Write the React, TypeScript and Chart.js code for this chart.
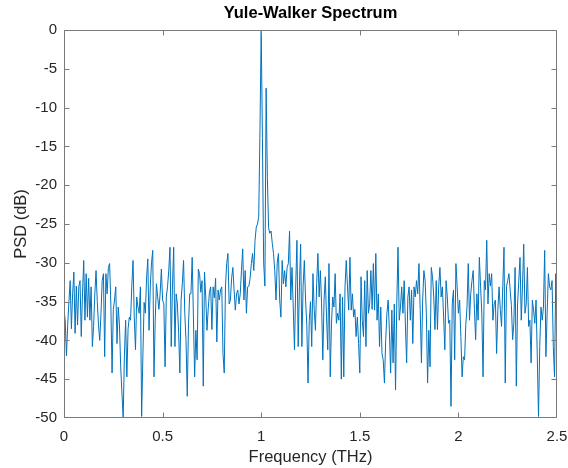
import React, { useEffect, useRef } from 'react';
import { Chart, registerables } from 'chart.js';

Chart.register(...registerables);

// ---- data ----
const FREQ_STEP_THZ = 0.00625; // frequency grid spacing of the estimate (THz)

const PSD_DB: number[] = [
  // 0.000 - 0.306
  -36, -37.5, -42, -38, -35, -32.3, -38.5, -34, -31.2, -39.1,
  -33, -38, -33.1, -32.3, -39.5, -34, -29.7, -37.4, -31.4, -37,
  -32, -37.4, -33.1, -40.8, -38.2, -34, -31, -35, -38, -40,
  -36.5, -32.3, -31.4, -42.1, -31.4, -34, -30.6, -30.1, -35.3, -44.2,
  -36, -34.8, -33.1, -40.4, -35.7, -38, -43.4, -46.8, -50, -42,
  // 0.3125 - 0.6188
  -37.4, -44.7, -38.5, -37, -37.4, -33, -29.7, -37, -41.2, -34.4,
  -35.7, -36.5, -33.1, -49.8, -42, -35.1, -36.5, -32, -29.5, -38.7,
  -33.1, -30, -28.4, -44.7, -37.4, -32.7, -34.4, -36, -34, -30.8,
  -34.8, -35.3, -43.4, -34.4, -33.1, -31, -28, -40.8, -33.1, -28,
  -40.8, -34, -35.3, -39, -44.2, -34.8, -32.7, -29.7, -36.5, -40,
  // 0.625 - 0.9313
  -47.2, -38, -34, -34, -29.3, -37, -44.7, -38.7, -42.5, -30.8,
  -31.4, -33.8, -32.3, -45.9, -31.2, -34.4, -38.7, -36, -33.8, -33.1,
  -38.6, -33.1, -34.5, -32, -40.2, -33.5, -34.8, -33.5, -33.1, -41.7,
  -44.2, -33, -30.1, -28.8, -35.3, -34.8, -32, -30.6, -33.5, -36.1,
  -34, -33.5, -35.3, -34, -31, -28.2, -34.8, -31, -36.5, -33.1,
  // 0.9375 - 1.2438
  -33, -32, -30.1, -28.8, -31, -27.1, -25.4, -25, -24, -13,
  0, -14, -30, -33, -7.5, -19, -25.5, -26.2, -25.9, -27.5,
  -28.8, -31, -34.8, -30, -28.8, -34.8, -37, -29.7, -32.7, -31,
  -33.1, -30.6, -30.1, -25.9, -34.8, -30.6, -35.7, -41.2, -33, -27.1,
  -40.8, -33.1, -27.6, -40.8, -33, -29.7, -34.8, -38, -45.5, -37.4,
  // 1.25 - 1.5563
  -35, -40.8, -31.4, -36, -38.7, -32.7, -28.8, -34.4, -31, -35.3,
  -42.5, -34.8, -31.8, -37, -41.2, -30.1, -44.7, -38, -34.4, -35.7,
  -31.4, -37.8, -36.5, -37.4, -34, -45, -34.4, -44.7, -33.1, -29.7,
  -33, -36.1, -29.3, -36.1, -34, -37, -36, -39.5, -37, -40.4,
  -44.2, -31.8, -37.4, -39.5, -32.3, -40.8, -31, -36.5, -35.3, -31,
  // 1.5625 - 1.8688
  -36, -30.1, -36.1, -28.8, -37.4, -34, -40.8, -35.7, -41.7, -42.5,
  -45.5, -40, -36.5, -34.8, -38.7, -44.2, -36.1, -42.9, -35.3, -46.4,
  -35.3, -28, -37.4, -35.7, -33.1, -36.5, -32.3, -38, -42.9, -34.4,
  -33.1, -37.4, -33.5, -40.4, -33.1, -34.4, -32.3, -34, -30.1, -36,
  -42.9, -34.8, -31, -32.3, -36.5, -45.5, -38.7, -43.4, -30.6, -31.8,
  // 1.875 - 2.1813
  -34.4, -38.6, -32.3, -38.6, -33.1, -30.6, -34.4, -33.1, -37, -41.2,
  -32.3, -34.4, -37.8, -37.4, -48.5, -35.3, -33.5, -42.5, -30.1, -33.1,
  -36.5, -34.8, -39.5, -44.7, -42.1, -42.5, -38, -35.7, -30.1, -37.4,
  -34, -32.3, -31, -36, -39.9, -34, -37.4, -29.3, -33.1, -36.5,
  -44.7, -32.3, -33.5, -27.1, -35.3, -31.4, -33, -31.4, -37.4, -35.3,
  // 2.1875 - 2.5
  -34.8, -41.7, -36.1, -33.1, -36, -38.2, -33.1, -28, -45.5, -33.1,
  -32.3, -31.4, -33.5, -35.5, -39.9, -37.8, -30.6, -45.9, -35.3, -32.3,
  -29.3, -37.4, -33, -27.6, -36.5, -35.3, -30.6, -38.2, -37.4, -42.9,
  -34.8, -36.1, -37.8, -34.8, -42, -49.8, -40.8, -35.7, -37.4, -35.7,
  -28.4, -42.1, -36.5, -31.4, -33.1, -33.5, -32.3, -40.8, -44.7, -31.4,
  -44.5,
];

const X_TICKS = [0, 0.5, 1, 1.5, 2, 2.5];
const Y_TICKS = [-50, -45, -40, -35, -30, -25, -20, -15, -10, -5, 0];

const TITLE = 'Yule-Walker Spectrum';
const X_LABEL = 'Frequency (THz)';
const Y_LABEL = 'PSD (dB)';

const FONT = "'Liberation Sans', Arial, Helvetica, sans-serif";
const TEXT_COLOR = '#262626';
const FRAME_COLOR = '#7a7a7a';
const LINE_COLOR = '#0072BD';

const framePlugin = {
  id: 'matlabFrame',
  afterDatasetsDraw(chart: any) {
    const { ctx, chartArea: a, scales } = chart;
    const L = Math.round(a.left) + 0.5;
    const R = Math.round(a.right) - 0.5;
    const T = Math.round(a.top) + 0.5;
    const B = Math.round(a.bottom) - 0.5;
    const tick = 5;
    ctx.save();
    ctx.strokeStyle = FRAME_COLOR;
    ctx.lineWidth = 1;
    ctx.beginPath();
    ctx.rect(L, T, R - L, B - T);
    for (const v of X_TICKS) {
      const px = Math.round(scales.x.getPixelForValue(v)) + 0.5;
      const x = Math.min(Math.max(px, L), R);
      ctx.moveTo(x, B);
      ctx.lineTo(x, B - tick);
      ctx.moveTo(x, T);
      ctx.lineTo(x, T + tick);
    }
    for (const v of Y_TICKS) {
      const py = Math.round(scales.y.getPixelForValue(v)) + 0.5;
      const y = Math.min(Math.max(py, T), B);
      ctx.moveTo(L, y);
      ctx.lineTo(L + tick, y);
      ctx.moveTo(R, y);
      ctx.lineTo(R - tick, y);
    }
    ctx.stroke();
    ctx.restore();
  },
};

export default function App() {
  const canvasRef = useRef<HTMLCanvasElement | null>(null);

  useEffect(() => {
    const canvas = canvasRef.current;
    if (!canvas) return;
    const points = PSD_DB.map((db, i) => ({ x: i * FREQ_STEP_THZ, y: db }));

    const chart = new Chart(canvas, {
      type: 'line',
      data: {
        datasets: [
          {
            data: points,
            borderColor: LINE_COLOR,
            borderWidth: 1,
            pointRadius: 0,
            tension: 0,
            fill: false,
          },
        ],
      },
      options: {
        responsive: false,
        animation: false,
        devicePixelRatio: 1,
        layout: { padding: { left: 0, right: 11, top: 0, bottom: 0 } },
        plugins: {
          legend: { display: false },
          tooltip: { enabled: false },
          title: {
            display: true,
            text: TITLE,
            fullSize: false,
            color: '#000000',
            font: { family: FONT, size: 16.5, weight: 'bold' },
            padding: { top: 4, bottom: 6.2 },
          },
        },
        scales: {
          x: {
            type: 'linear',
            min: 0,
            max: 2.5,
            grid: { display: false, drawTicks: false },
            border: { display: false },
            afterBuildTicks: (s: any) => {
              s.ticks = X_TICKS.map((v) => ({ value: v }));
            },
            afterFit: (s: any) => {
              s.height = 50;
              s.paddingLeft = 0;
              s.paddingRight = 0;
            },
            ticks: {
              color: TEXT_COLOR,
              font: { family: FONT, size: 15 },
              padding: 10,
              maxRotation: 0,
              autoSkip: false,
              callback: (v: any) => String(v),
            },
            title: {
              display: true,
              text: X_LABEL,
              color: TEXT_COLOR,
              font: { family: FONT, size: 16.5 },
              padding: { top: 0, bottom: 1 },
            },
          },
          y: {
            type: 'linear',
            min: -50,
            max: 0,
            grid: { display: false, drawTicks: false },
            border: { display: false },
            afterBuildTicks: (s: any) => {
              s.ticks = Y_TICKS.map((v) => ({ value: v }));
            },
            afterFit: (s: any) => {
              s.width = 64;
              s.paddingTop = 0;
              s.paddingBottom = 0;
            },
            ticks: {
              color: TEXT_COLOR,
              font: { family: FONT, size: 15 },
              padding: 7,
              autoSkip: false,
              callback: (v: any) => String(v),
            },
            title: {
              display: true,
              text: Y_LABEL,
              color: TEXT_COLOR,
              font: { family: FONT, size: 16.5 },
              padding: { top: 12, bottom: 0 },
            },
          },
        },
      },
      plugins: [framePlugin],
    });

    return () => {
      chart.destroy();
    };
  }, []);

  return (
    <div style={{ position: 'fixed', left: 0, top: 0, width: 568, height: 468, background: '#ffffff' }}>
      <canvas ref={canvasRef} width={568} height={468} style={{ display: 'block', width: 568, height: 468 }} />
    </div>
  );
}
